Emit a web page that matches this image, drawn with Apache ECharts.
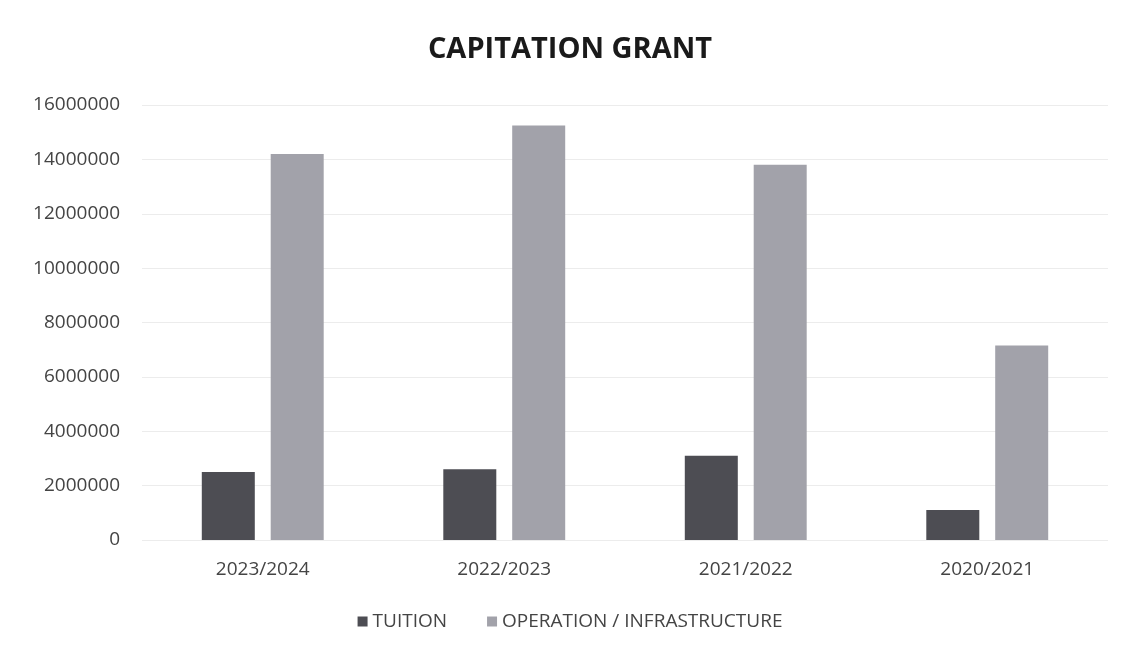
<!DOCTYPE html>
<html>
<head>
<meta charset="utf-8">
<script src="https://cdn.jsdelivr.net/npm/echarts@6/dist/echarts.min.js"></script>
<style>
html,body{margin:0;padding:0;background:#fff;}
#chart{width:1140px;height:656px;}
</style>
</head>
<body>
<div id="chart"></div>
<script>
const categories = ['2023/2024', '2022/2023', '2021/2022', '2020/2021'];
const tuition = [2500000, 2600000, 3100000, 1100000];
const operation = [14200000, 15250000, 13800000, 7150000];
const seriesNames = ['TUITION', 'OPERATION / INFRASTRUCTURE'];

const chart = echarts.init(document.getElementById('chart'));
chart.setOption({
  backgroundColor: '#ffffff',
  animation: false,
  title: {
    text: 'CAPITATION GRANT',
    left: 'center',
    top: 30,
    textStyle: { fontFamily: 'Open Sans', fontSize: 29, fontWeight: 'bold', color: '#1a1a1a' }
  },
  legend: {
    bottom: 20,
    left: 'center',
    itemWidth: 10,
    itemHeight: 10,
    itemGap: 40,
    icon: 'rect',
    textStyle: { fontFamily: 'Open Sans', fontSize: 19, color: '#444' },
    data: seriesNames
  },
  grid: { left: 142, right: 32, top: 105, bottom: 116 },
  xAxis: {
    type: 'category',
    data: categories,
    axisLine: { show: false },
    axisTick: { show: false },
    axisLabel: { fontFamily: 'Open Sans', fontSize: 19, color: '#444', margin: 20 }
  },
  yAxis: {
    type: 'value',
    min: 0,
    max: 16000000,
    interval: 2000000,
    axisLine: { show: false },
    axisTick: { show: false },
    splitLine: { lineStyle: { color: '#ececec', width: 1 } },
    axisLabel: { fontFamily: 'Open Sans', fontSize: 19, color: '#444', margin: 22, formatter: function (v) { return String(v); } }
  },
  series: [
    {
      name: seriesNames[0],
      type: 'bar',
      data: tuition,
      barWidth: 53,
      barGap: '30%',
      itemStyle: { color: '#4d4d53' }
    },
    {
      name: seriesNames[1],
      type: 'bar',
      data: operation,
      barWidth: 53,
      itemStyle: { color: '#a2a2aa' }
    }
  ]
});
</script>
</body>
</html>
